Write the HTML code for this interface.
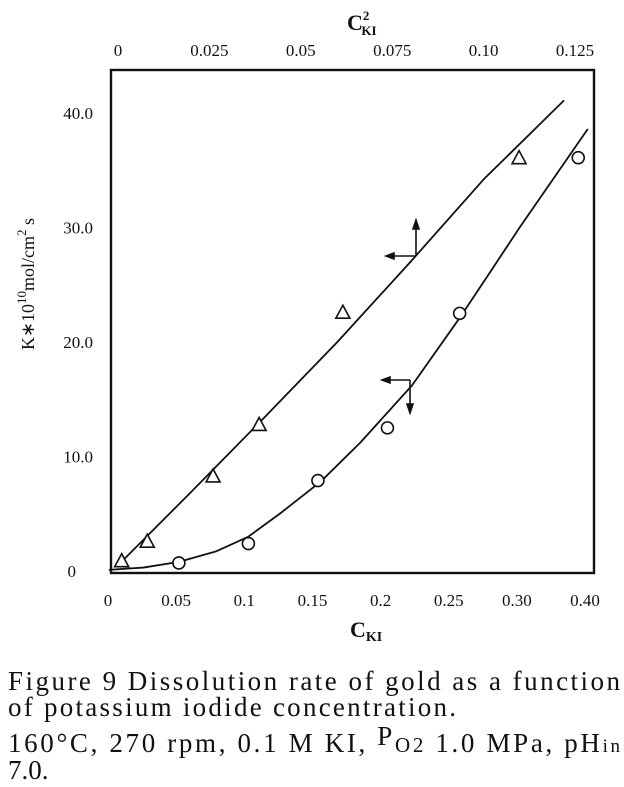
<!DOCTYPE html>
<html><head><meta charset="utf-8"><style>
html,body{margin:0;padding:0;background:#fff;width:624px;height:787px;overflow:hidden}
svg text{font-family:"Liberation Serif",serif;fill:#111}
</style></head><body>
<svg id="chart" width="624" height="787" viewBox="0 0 624 787" xmlns="http://www.w3.org/2000/svg">
<g id="plot"></g>
<g font-size="27">
<text x="8" y="690" textLength="612" lengthAdjust="spacing">Figure 9 Dissolution rate of gold as a function</text>
<text x="8" y="716" textLength="448" lengthAdjust="spacing">of potassium iodide concentration.</text>
<text x="8" y="752" textLength="612" lengthAdjust="spacing">160°C, 270 rpm, 0.1 M KI, <tspan dy="-7">P</tspan><tspan font-size="21" dy="7">O</tspan><tspan font-size="21">2</tspan> 1.0 MPa, pH<tspan font-size="19">in</tspan></text>
<text x="8" y="779">7.0.</text>
</g>
</svg>
<script>
// bottom axis C_KI, top axis C_KI^2, left axis K
const bottomTicks=[0,0.05,0.1,0.15,0.2,0.25,0.30,0.35];
const bottomTickLabels=["0","0.05","0.1","0.15","0.2","0.25","0.30","0.40"];
const topTicks=[0,0.025,0.05,0.075,0.10,0.125];
const topTickLabels=["0","0.025","0.05","0.075","0.10","0.125"];
const yTicks=[0,10,20,30,40];
const yTickLabels=["0","10.0","20.0","30.0","40.0"];
// circles vs C_KI (bottom)
const circleC=[0.052,0.103,0.154,0.205,0.258,0.345];
const circleK=[0.7,2.4,7.9,12.5,22.5,36.1];
// triangles vs C_KI^2 (top)
const triC2=[0.001,0.008,0.026,0.0386,0.0615,0.1097];
const triK=[0.9,2.6,8.3,12.8,22.6,36.1];
// fitted curves
const triCurveC2=[0.0,0.02,0.04,0.06,0.08,0.10,0.122];
const triCurveK=[0.5,6.9,13.4,20.0,27.0,34.2,41.1];
const cirCurveC=[0.0006,0.026,0.052,0.079,0.103,0.126,0.156,0.185,0.223,0.258,0.282,0.302,0.352];
const cirCurveK=[0.1,0.3,0.8,1.7,3.0,5.0,7.8,11.2,16.2,22.1,26.4,30.0,38.6];

const NS="http://www.w3.org/2000/svg";
const g=document.getElementById('plot');
const L=111,R=594,T=70,B=573;
const xB=v=>108+1363*v;
const xT=v=>118+3656*v;
const yK=v=>571-11.45*v;
function mk(tag,attrs,parent){const e=document.createElementNS(NS,tag);for(const k in attrs)e.setAttribute(k,attrs[k]);(parent||g).appendChild(e);return e;}

const frame=mk('rect',{x:L,y:T,width:R-L,height:B-T,fill:'none',stroke:'#111','stroke-width':2.4});



bottomTicks.forEach((v,i)=>{
 const t=mk('text',{x:xB(v),y:606,'font-size':17,'text-anchor':'middle'});t.textContent=bottomTickLabels[i];
 
 
});
topTicks.forEach((v,i)=>{
 const t=mk('text',{x:xT(v),y:56,'font-size':17,'text-anchor':'middle'});t.textContent=topTickLabels[i];
 
 
});
yTicks.forEach((v,i)=>{
 const t=mk('text',{x:i===0?76:93,y:yK(v)+6,'font-size':17,'text-anchor':'end','font-family':'Liberation Sans'});t.textContent=yTickLabels[i];
 
 
});

const yl=mk('text',{transform:'translate(34,284) rotate(-90)','font-size':18,'text-anchor':'middle','font-family':'Liberation Sans'});
yl.innerHTML='K∗10<tspan dy="-8" font-size="13">10</tspan><tspan dy="8">mol/cm</tspan><tspan dy="-8" font-size="13">2</tspan><tspan dy="8"> s</tspan>';


const bl=mk('text',{x:350,y:637,'font-size':22,'font-family':'Liberation Sans','font-weight':'bold'});
bl.innerHTML='C<tspan font-size="14" dy="4">KI</tspan>';


const tl=mk('text',{x:347,y:30,'font-size':22,'font-family':'Liberation Sans','font-weight':'bold'});
tl.innerHTML='C<tspan font-size="13" dy="-10">2</tspan><tspan font-size="13" dx="-8" dy="15">KI</tspan>';



const p1=mk('polyline',{points:triCurveC2.map((v,i)=>xT(v)+','+yK(triCurveK[i])).join(' '),fill:'none',stroke:'#111','stroke-width':1.8,'stroke-linejoin':'round'});


const p2=mk('polyline',{points:cirCurveC.map((v,i)=>xB(v)+','+yK(cirCurveK[i])).join(' '),fill:'none',stroke:'#111','stroke-width':1.8,'stroke-linejoin':'round'});



triC2.forEach((v,i)=>{const x=xT(v),y=yK(triK[i]);
 const e=mk('polygon',{points:`${x},${y-7} ${x-7},${y+6} ${x+7},${y+6}`,fill:'#fff',stroke:'#111','stroke-width':1.6});
 
 
});
circleC.forEach((v,i)=>{
 const e=mk('circle',{cx:xB(v),cy:yK(circleK[i]),r:6,fill:'#fff',stroke:'#111','stroke-width':1.6});
 
 
});

function arrow(name,pts){const e=mk('path',{d:pts,fill:'#111',stroke:'#111','stroke-width':1.6});
 
 }
arrow('triangle-axis-arrow','M416,256 L386,256 M386,256 L394,253 L394,259 Z M416,256 L416,220 M416,220 L413,229 L419,229 Z');
arrow('circle-axis-arrow','M410,380 L382,380 M382,380 L390,377 L390,383 Z M410,380 L410,413 M410,413 L407,404 L413,404 Z');
</script>
</body></html>
